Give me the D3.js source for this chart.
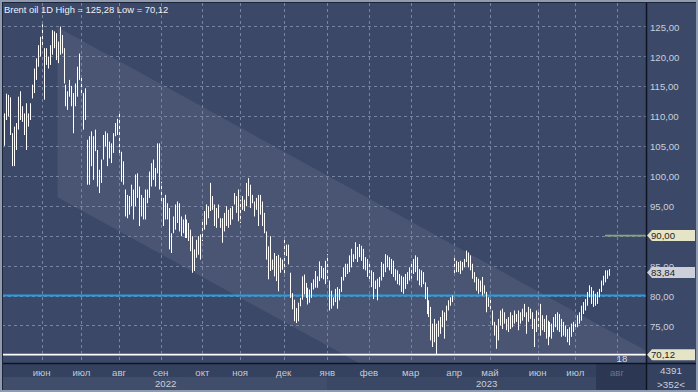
<!DOCTYPE html>
<html><head><meta charset="utf-8">
<script src="https://cdn.jsdelivr.net/npm/d3@7"></script>
<style>html,body{margin:0;padding:0;background:#8f9bb0;overflow:hidden}svg{display:block}</style>
</head><body><svg id="c" width="698" height="392"></svg>
<script>
// ---- data ----
const highs = [
110.4,113.7,113.5,113.1,107.1,108.2,108.8,113.2,114.1,111.6,110.4,112.1,110.4,112.1,115.2,117.9,119.6,121.8,123.2,125.28,
121.3,121.3,119.9,121.8,124.3,124.1,123.8,122.4,124.9,123.5,121.3,115.2,114.1,116,115,113.8,115.4,118.2,120.4,116.6,
113.8,114.6,106,106.6,107.4,106.6,107.7,104.3,101,102.7,106.8,107.4,
107.1,105.7,105.4,107.1,108.8,109.5,110.5,104,102.4,97.7,96.8,96.6,98.5,97.7,100.2,100.4,98.2,96.8,96.3,97.7,
97.7,100.7,102.1,102.7,101.3,105.4,105.4,99,96.3,96.8,95.4,94.6,90.4,93.2,95.2,95.7,95.4,93.2,92.7,93.5,
92.7,92.1,91,89.9,87.7,89.3,89.9,90.2,92.7,94.1,95.2,94.9,98.8,96.6,95.2,94.6,95.2,
92.9,92.9,93.8,94.9,94.3,94.6,94.9,97.1,96.6,97.7,96,96.6,96,98.8,99.6,98.5,96.8,95.7,96.3,96.8,
96.8,95.7,93.8,90.7,88.2,89.9,86,87.1,86.6,86.8,86.3,86,89.6,88.5,88.5,83.8,80.4,79.3,77.9,78.8,
79.6,83.2,83.5,82.1,81.3,81,82.1,82.7,84.1,83.2,85.7,84.9,84.6,
85.8,86.9,82.5,80.8,79.7,81.1,81.4,81.1,83.1,84.7,85.3,85.3,86.7,87.8,86.9,88.9,88.1,88.6,88.3,87.8,
86.4,86.1,85.3,84.2,83.9,82.5,82.8,83.1,85.6,85.3,86.9,86.7,86.4,86.1,85.8,84.4,84.2,83.6,83.3,83.1,
83.6,83.9,84.7,85.3,86.1,86.7,86.4,84.4,84.2,83.9,82.2,81.4,79.2,
78.1,75.3,76.1,75.3,75.8,76.4,77.5,77.2,78.3,79.2,79.7,80,86.4,85.8,85.6,85.8,85.6,86.1,87.5,87.2,
86.7,85.3,83.9,83.1,82.8,82.5,83.1,81.7,80.6,79.7,79.4,77.5,75.6,75,76.1,77.5,77.8,77.2,76.1,76.4,
77.2,76.7,77.5,76.9,77.5,77.2,77.8,78.6,77.2,78.1,77.8,77.2,76.1,
77.5,77.2,78.6,76.7,76.1,76.7,75.8,75.6,75.3,76.4,76.9,77.2,76.9,76.1,75.6,75,74.4,74.7,75.3,75.6,
75.8,76.7,77.2,78.3,78.9,79.4,80.6,81.7,81.4,80.8,80.3,80.6,81.1,82.5,83.3,84.2,84.2,84.4
];
const lows = [
105,109.3,109.9,106.8,101.6,101.6,104.3,107.7,109.3,109,106.8,104.3,108.2,109.3,112.9,113.8,116,118.2,119.9,121.8,
112.7,118.5,117.9,118.5,120.2,121.3,119.3,118.8,120.2,120.4,115.4,111.6,111,113.2,111.6,107.1,111.6,113.2,116,113.8,
107.7,109.3,98.5,98.5,101.6,99.3,104.1,98.2,97.1,98.8,102.7,104.9,
101.6,102.9,102.1,103.8,106.6,106.8,103.5,99,98.5,93.2,92.9,93.5,94.9,92.7,94.9,96.3,91.6,93.2,92.7,92.7,
95.4,96.3,98.2,99.3,98.2,100.4,97.7,95.4,91.6,92.7,92.7,87.7,87.1,90.4,91,92.1,90.7,89.9,90.4,89.6,
89.6,89.1,87.4,83.8,84.1,86.3,86.8,86,89.1,91,91.8,92.9,94.1,94.3,91.6,91.3,92.9,
91.3,88.8,90.7,91.6,91.3,91.8,92.7,95.2,93.8,92.4,92.1,94.3,94.1,94.9,96.6,94.6,95.4,93.2,94.3,91.6,
93.5,91.6,90.4,86,82.7,84.1,84.3,83.2,82.4,80.7,83.8,84.3,83.2,86.6,85.2,79.6,77.7,75.7,75.4,75.7,
78.2,79.3,80.2,79.6,78.5,78.8,79.6,81,81.3,81.3,82.4,82.9,82.7,
81.9,82.5,77.5,77.8,78.3,78.9,77.8,79.2,80.6,82.5,83.1,83.6,83.9,84.7,85.6,86.1,85.6,86.4,85.8,84.4,
84.2,83.1,82.5,81.4,79.4,81.1,79.2,81.4,82.5,83.1,83.9,84.7,84.2,83.6,83.1,82.5,81.9,81.7,80.6,80.3,
81.1,81.9,82.5,82.8,83.6,83.9,82.5,81.7,81.4,81.9,79.4,76.9,76.4,
72.5,71.4,72.2,70.12,73.1,73.6,74.7,72.8,75.8,77.5,78.3,78.9,83.3,83.9,83.9,83.6,84.2,84.7,85.6,84.7,
84.2,82.8,82.2,80.8,80.3,80.6,80,80.3,77.2,78.1,77.5,75,73.3,71.1,72.5,75,74.4,75.3,74.2,73.9,
74.4,74.7,75.3,75.6,74.2,75.3,75.8,76.4,73.6,75.6,76.1,74.4,71.4,
73.9,74.7,73.3,74.2,73.9,72.8,71.7,73.1,72.8,73.9,74.7,74.2,73.9,73.1,73.3,73.1,72.2,71.7,73.1,73.9,
74.4,74.7,75.3,75.8,76.9,77.5,78.3,79.7,78.6,78.1,78.3,78.6,79.7,80.6,81.7,82.2,82.8,83.3
];
const monthLabels = ['июн','июл','авг','сен','окт','ноя','дек','янв','фев','мар','апр','май','июн','июл','авг'];
const monthIdx    = [19,39,58,79,100,119,141,163,184,205,227,245,269,288,309];
const yearLabels  = ['2022','2023'];
const yearStartIdx = [0,163];
const priceTicks = [75,80,85,90,95,100,105,110,115,120,125];
const title = 'Brent oil 1D High = 125,28 Low = 70,12';
const lastClose = 83.84;
const lowValue = 70.12;
const blueLevel = 80;
const greenLevel = 90;
const greenStartIdx = 303;
const channelIdx = [27, 324];
const channelUpper = [124.8, 70.7];
const channelWidth = 28.4;
const dayLabel = '18';
const infoLines = ['4391', '>352<'];

// ---- layout ----
const W = 698, H = 392;
const L = 2, R = 646, T = 3, B = 363;
const fmt = v => d3.format('.2f')(v).replace('.', ',');
const N = highs.length;
const x = d3.scaleLinear().domain([0, N - 1]).range([4, 609]);
const y = d3.scaleLinear().domain([70, 125]).range([355.4, 26]);
const svg = d3.select('#c');
const font = 'Liberation Sans, Arial, sans-serif';

// frame + backgrounds
svg.append('rect').attr('width', W).attr('height', H).attr('fill', '#8f9bb0');
svg.append('rect').attr('x', 2).attr('y', 2).attr('width', W - 4).attr('height', H - 4).attr('fill', '#3b4868');

// bottom strip
const strip = svg.append('g');
strip.append('rect').attr('x', L).attr('y', B).attr('width', W - 4 - L + 2).attr('height', 390 - B).attr('fill', '#34425f');
const xEnd = x.invert(R);
yearLabels.forEach((yl, k) => {
  const a = x(yearStartIdx[k]) , b = k + 1 < yearLabels.length ? x(yearStartIdx[k + 1]) : R;
  strip.append('rect').attr('x', k === 0 ? L : a).attr('y', 377).attr('width', (b - (k === 0 ? L : a)))
    .attr('height', 13).attr('fill', k === 0 ? '#404e6b' : '#3a4866');
});
const lastM = monthIdx.length - 1;
const futX = (x(monthIdx[lastM - 1]) + x(monthIdx[lastM])) / 2;
strip.append('rect').attr('x', futX).attr('y', B).attr('width', R - futX).attr('height', 390 - B).attr('fill', '#2c3853');

// plot clip
svg.append('clipPath').attr('id', 'clip').append('rect').attr('x', L).attr('y', T).attr('width', R - L).attr('height', B - T);
const plot = svg.append('g').attr('clip-path', 'url(#clip)');

// channel band
const cp = [
  [x(channelIdx[0]), y(channelUpper[0])],
  [x(channelIdx[1]), y(channelUpper[1])],
  [x(channelIdx[1]), y(channelUpper[1] - channelWidth)],
  [x(channelIdx[0]), y(channelUpper[0] - channelWidth)]
];
plot.append('path').attr('d', d3.line()(cp) + 'Z').attr('fill', '#ffffff').attr('fill-opacity', 0.075);

// grid
const gridCol = '#7784a2';
plot.selectAll('.hg').data(priceTicks).join('line')
  .attr('x1', L).attr('x2', R).attr('y1', p => Math.round(y(p)) + 0.5).attr('y2', p => Math.round(y(p)) + 0.5)
  .attr('stroke', gridCol).attr('stroke-dasharray', '3,3').attr('stroke-width', 1);
svg.selectAll('.vg').data(monthIdx).join('line')
  .attr('x1', i => Math.round(x(i)) + 0.5).attr('x2', i => Math.round(x(i)) + 0.5).attr('y1', T).attr('y2', B)
  .attr('stroke', gridCol).attr('stroke-dasharray', '3,3').attr('stroke-width', 1);

// level lines
plot.append('line').attr('x1', L).attr('x2', R).attr('y1', y(blueLevel)).attr('y2', y(blueLevel))
  .attr('stroke', '#23a0e0').attr('stroke-width', 2);
plot.append('line').attr('x1', x(greenStartIdx)).attr('x2', R).attr('y1', y(greenLevel)).attr('y2', y(greenLevel))
  .attr('stroke', '#8da27a').attr('stroke-width', 1.6);
plot.append('line').attr('x1', L).attr('x2', R).attr('y1', y(lowValue)).attr('y2', y(lowValue))
  .attr('stroke', '#ffffff').attr('stroke-width', 1.8);

// bars
plot.selectAll('.bar').data(highs.map((h, i) => ({ i, h, l: lows[i] }))).join('line')
  .attr('x1', d => Math.round(x(d.i)) + 0.5).attr('x2', d => Math.round(x(d.i)) + 0.5)
  .attr('y1', d => y(d.h)).attr('y2', d => y(d.l))
  .attr('stroke', '#ffffff').attr('stroke-width', 1);

// separators
svg.append('line').attr('x1', L).attr('x2', W - 2).attr('y1', B + 0.5).attr('y2', B + 0.5).attr('stroke', '#0f1422').attr('stroke-width', 1.5);
svg.append('line').attr('x1', R + 0.5).attr('x2', R + 0.5).attr('y1', T).attr('y2', 390).attr('stroke', '#0f1422').attr('stroke-width', 1.5);
svg.append('line').attr('x1', 2.5).attr('x2', 2.5).attr('y1', 2).attr('y2', 390).attr('stroke', '#1c2436').attr('stroke-width', 1);
svg.append('line').attr('x1', 2).attr('x2', W - 2).attr('y1', 2.5).attr('y2', 2.5).attr('stroke', '#1c2436').attr('stroke-width', 1);

// right price axis
const yAxis = d3.axisRight(y).tickValues(priceTicks).tickSize(0).tickPadding(3).tickFormat(fmt);
const ax = svg.append('g').attr('transform', `translate(${R + 1},1)`).call(yAxis);
ax.select('.domain').remove();
ax.selectAll('text').attr('fill', '#c9d0dd').attr('font-family', font).attr('font-size', 9.6);

// tags
function tag(p, txt, fill) {
  const cy = y(p), x0 = R + 1, x1 = W - 3, h = 5.5;
  svg.append('path').attr('d', `M${x0},${cy} L${x0 + 5},${cy - h} L${x1},${cy - h} L${x1},${cy + h} L${x0 + 5},${cy + h} Z`)
    .attr('fill', fill);
  svg.append('text').attr('x', R + 5).attr('y', cy).attr('dy', '0.35em').text(txt)
    .attr('fill', '#1b1e26').attr('font-family', font).attr('font-size', 9.6);
}
tag(greenLevel, fmt(greenLevel), '#e6e4c6');
tag(lastClose, fmt(lastClose), '#cdd0d8');
tag(lowValue, fmt(lowValue), '#e6e4c6');

// day label
svg.append('text').attr('x', x(monthIdx[lastM]) + 5).attr('y', 362).attr('text-anchor', 'middle').text(dayLabel)
  .attr('fill', '#d8dde6').attr('font-family', font).attr('font-size', 9.6);

// month labels
svg.selectAll('.ml').data(monthLabels).join('text')
  .attr('x', (d, k) => x(monthIdx[k])).attr('y', 375.5).attr('text-anchor', 'middle').text(d => d)
  .attr('fill', (d, k) => k === lastM ? '#66749a' : '#c3cad8').attr('font-family', font).attr('font-size', 9.6);

// year labels (centred on their span)
yearLabels.forEach((yl, k) => {
  const a = yearStartIdx[k], b = k + 1 < yearLabels.length ? yearStartIdx[k + 1] : xEnd;
  svg.append('text').attr('x', x((a + b) / 2)).attr('y', 386.5).attr('text-anchor', 'middle').text(yl)
    .attr('fill', '#c9d0dd').attr('font-family', font).attr('font-size', 9.6);
});

// info box
infoLines.forEach((t, k) => {
  svg.append('text').attr('x', (R + W - 2) / 2).attr('y', 374 + k * 13.5).attr('text-anchor', 'middle').text(t)
    .attr('fill', '#c9d0dd').attr('font-family', font).attr('font-size', 9.8);
});

// title
svg.append('text').attr('x', 4).attr('y', 13).text(title)
  .attr('fill', '#eef1f5').attr('font-family', font).attr('font-size', 9.4);
</script></body></html>
